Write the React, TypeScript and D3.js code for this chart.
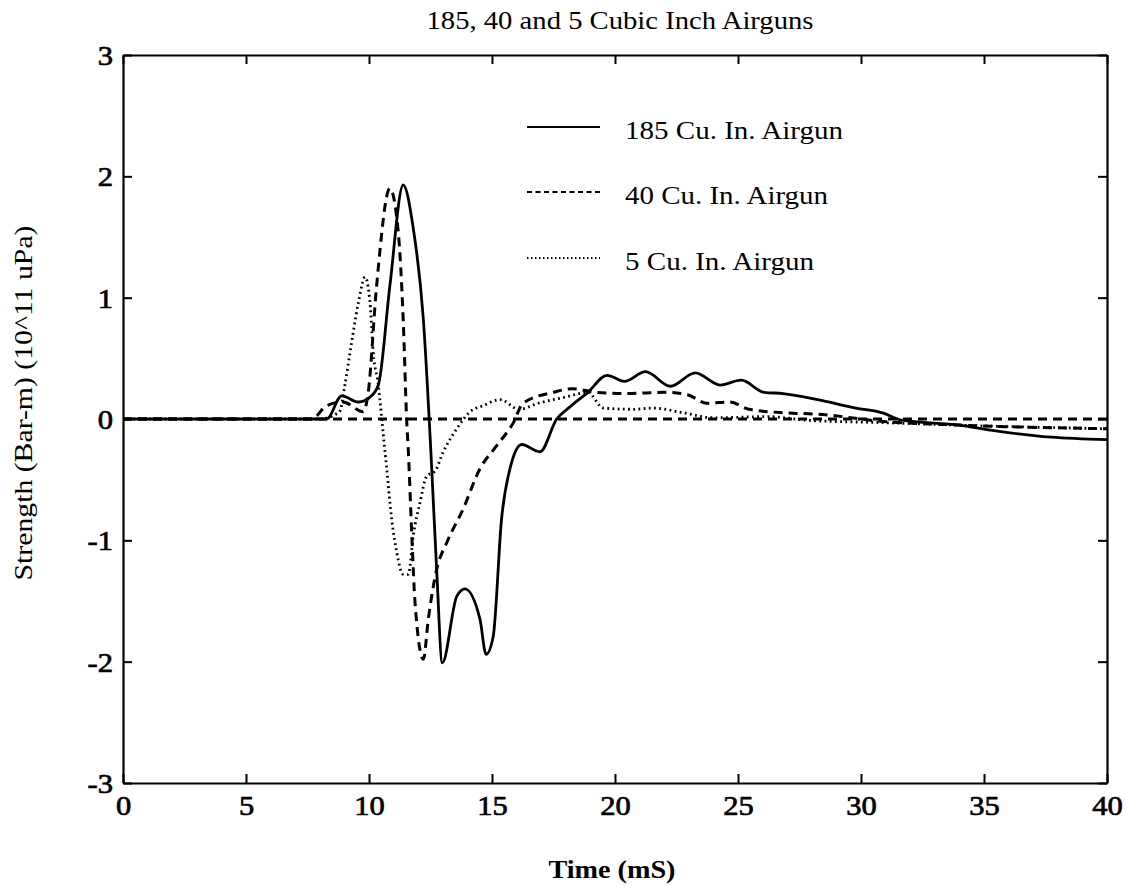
import { useEffect, useRef } from "react";
import * as d3 from "d3";

// chart size and plot frame
const width = 1125;
const height = 890;
const margin = { top: 55, right: 18, bottom: 107, left: 123 };

const xTicks = [0, 5, 10, 15, 20, 25, 30, 35, 40];
const yTicks = [-3, -2, -1, 0, 1, 2, 3];

// 185 cu. in. airgun (solid)
const time185 = [0, 8.28, 8.89, 9.57, 10.04, 10.38, 10.85, 11.39, 11.8, 12.21, 12.48, 12.55, 12.75, 12.98, 13.57, 13.9, 14.51, 14.76, 15.05, 15.39, 15.73, 16.21, 16.95, 17.63, 18.17, 18.9, 19.68, 20.38, 21.24, 22.25, 23.26, 24.27, 25.13, 26.06, 26.84, 28.24, 29.79, 30.88, 31.66, 33.99, 35.55, 37.73, 40];
const strength185 = [0, 0, 0.19, 0.14, 0.18, 0.28, 1.1, 1.93, 1.57, 0.82, -0.13, -0.41, -1.24, -2.01, -1.46, -1.4, -1.65, -1.94, -1.79, -0.82, -0.41, -0.21, -0.27, 0, 0.1, 0.22, 0.36, 0.31, 0.39, 0.27, 0.38, 0.28, 0.32, 0.22, 0.21, 0.16, 0.09, 0.05, -0.01, -0.05, -0.1, -0.15, -0.17];

// 40 cu. in. airgun (dashed)
const time40 = [0, 7.67, 8.28, 8.94, 9.77, 9.97, 10.31, 10.85, 11.19, 11.39, 11.53, 11.6, 11.74, 11.87, 12.21, 12.41, 12.75, 13.16, 13.83, 14.51, 15.19, 15.87, 16.26, 17.5, 18.28, 19.22, 20.46, 22.02, 22.95, 23.73, 24.66, 25.44, 26.99, 28.24, 30.88, 33.99, 40];
const strength40 = [0, 0, 0.11, 0.14, 0.06, 0.22, 1.1, 1.9, 1.54, 0.82, 0, -0.27, -0.96, -1.51, -1.98, -1.65, -1.24, -1.02, -0.74, -0.41, -0.22, -0.03, 0.13, 0.22, 0.25, 0.22, 0.21, 0.22, 0.2, 0.13, 0.14, 0.08, 0.05, 0.04, -0.02, -0.05, -0.08];

// 5 cu. in. airgun (dotted)
const time5 = [0, 8.0, 8.8, 9.02, 9.23, 9.57, 9.84, 10.04, 10.17, 10.38, 10.52, 10.72, 10.92, 11.13, 11.39, 11.6, 11.8, 12.07, 12.35, 12.68, 13.02, 13.57, 14.11, 14.65, 15.33, 16.1, 16.88, 17.97, 18.9, 19.52, 20.77, 21.55, 22.79, 24.04, 26.22, 27.77, 30.88, 35.55, 40];
const strength5 = [0, 0, 0.06, 0.28, 0.55, 0.96, 1.17, 0.96, 0.55, 0.28, 0, -0.41, -0.82, -1.1, -1.28, -1.28, -0.96, -0.69, -0.47, -0.43, -0.27, -0.08, 0.06, 0.11, 0.16, 0.08, 0.13, 0.18, 0.22, 0.09, 0.08, 0.09, 0.05, 0.01, 0.02, -0.01, -0.03, -0.06, -0.08];

// zero reference line
const zeroTime = [0, 40];
const zeroStrength = [0, 0];

const legendLabels = ["185 Cu. In. Airgun", "40 Cu. In. Airgun", "5 Cu. In. Airgun"];

const styles = [
  { width: 2.8, dash: null },
  { width: 3, dash: "9,6" },
  { width: 2.8, dash: "1.8,3.4" },
];

const font = "Liberation Serif, Times New Roman, serif";
// the scanned figure is a bit wider than tall, so text is stretched sideways
const stretch = 1.13;

const widen = (sel: d3.Selection<any, any, any, any>) => {
  sel.each(function () {
    const t = this as SVGTextElement;
    const w = t.getComputedTextLength();
    if (w > 0) {
      t.setAttribute("textLength", String(w * stretch));
      t.setAttribute("lengthAdjust", "spacingAndGlyphs");
    }
  });
};

const drawChart = (node: SVGSVGElement) => {
  const svg = d3.select(node);
  svg.selectAll("*").remove();

  const x = d3.scaleLinear().domain([0, 40]).range([margin.left, width - margin.right]);
  const y = d3.scaleLinear().domain([-3, 3]).range([height - margin.bottom, margin.top]);

  const line = d3.line<[number, number]>()
    .x(d => x(d[0]))
    .y(d => y(d[1]))
    .curve(d3.curveMonotoneX);

  const series = [
    d3.zip(time185, strength185),
    d3.zip(time40, strength40),
    d3.zip(time5, strength5),
  ] as [number, number][][];

  // zero line
  svg.append("path")
    .attr("d", line(d3.zip(zeroTime, zeroStrength) as [number, number][]))
    .attr("fill", "none")
    .attr("stroke", "#000")
    .attr("stroke-width", 3)
    .attr("stroke-dasharray", "9,6");

  series.forEach((s, i) => {
    svg.append("path")
      .attr("d", line(s))
      .attr("fill", "none")
      .attr("stroke", "#000")
      .attr("stroke-width", styles[i].width)
      .attr("stroke-dasharray", styles[i].dash);
  });

  // axes with inward ticks
  const tick = 9;
  const fmt = (d: d3.NumberValue) => String(d);
  const bottom = svg.append("g").attr("transform", `translate(0,${y(-3)})`)
    .call(d3.axisBottom(x).tickValues(xTicks).tickFormat(fmt).tickSizeInner(-tick).tickSizeOuter(0).tickPadding(13));
  const top = svg.append("g").attr("transform", `translate(0,${y(3)})`)
    .call(d3.axisTop(x).tickValues(xTicks).tickSizeInner(-tick).tickSizeOuter(0).tickFormat(() => ""));
  const left = svg.append("g").attr("transform", `translate(${x(0)},0)`)
    .call(d3.axisLeft(y).tickValues(yTicks).tickFormat(fmt).tickSizeInner(-tick).tickSizeOuter(0).tickPadding(10));
  const right = svg.append("g").attr("transform", `translate(${x(40)},0)`)
    .call(d3.axisRight(y).tickValues(yTicks).tickSizeInner(-tick).tickSizeOuter(0).tickFormat(() => ""));

  [bottom, top, left, right].forEach(g => {
    g.attr("font-family", font);
    g.select(".domain").attr("stroke", "#000").attr("stroke-width", 2.2);
    g.selectAll(".tick line").attr("stroke", "#000").attr("stroke-width", 2);
    g.selectAll(".tick text")
      .attr("fill", "#000")
      .attr("font-size", 27)
      .attr("stroke", "#000")
      .attr("stroke-width", 0.7);
  });
  left.selectAll(".tick text").attr("dy", "0.35em");
  widen(bottom.selectAll(".tick text"));
  widen(left.selectAll(".tick text"));

  // title and axis labels
  svg.append("text")
    .attr("x", 620).attr("y", 29)
    .attr("text-anchor", "middle")
    .attr("font-family", font).attr("font-size", 25)
    .attr("textLength", 387).attr("lengthAdjust", "spacingAndGlyphs")
    .text("185, 40 and 5 Cubic Inch Airguns");

  svg.append("text")
    .attr("x", 612).attr("y", 878)
    .attr("text-anchor", "middle")
    .attr("font-family", font).attr("font-size", 25).attr("font-weight", "bold")
    .attr("textLength", 127).attr("lengthAdjust", "spacingAndGlyphs")
    .text("Time (mS)");

  svg.append("text")
    .attr("transform", `translate(32,403) rotate(-90)`)
    .attr("text-anchor", "middle")
    .attr("font-family", font).attr("font-size", 25)
    .attr("textLength", 355).attr("lengthAdjust", "spacingAndGlyphs")
    .text("Strength (Bar-m) (10^11 uPa)");

  // legend
  const legendY = [127, 192, 258];
  const legendW = [218, 203, 189];
  legendLabels.forEach((label, i) => {
    const g = svg.append("g");
    g.append("line")
      .attr("x1", 527).attr("x2", 600)
      .attr("y1", legendY[i]).attr("y2", legendY[i])
      .attr("stroke", "#000")
      .attr("stroke-width", i === 0 ? 2.2 : 1.8)
      .attr("stroke-dasharray", i === 0 ? null : i === 1 ? "5,3.5" : "1.5,2.5");
    g.append("text")
      .attr("x", 625).attr("y", legendY[i] + 12)
      .attr("font-family", font).attr("font-size", 25)
      .attr("textLength", legendW[i]).attr("lengthAdjust", "spacingAndGlyphs")
      .text(label);
  });
};

export default function App() {
  const ref = useRef<SVGSVGElement>(null);

  useEffect(() => {
    if (ref.current) drawChart(ref.current);
  }, []);

  return (
    <svg
      ref={ref}
      width={width}
      height={height}
      style={{ position: "absolute", left: 0, top: 0, background: "#fff" }}
    />
  );
}
